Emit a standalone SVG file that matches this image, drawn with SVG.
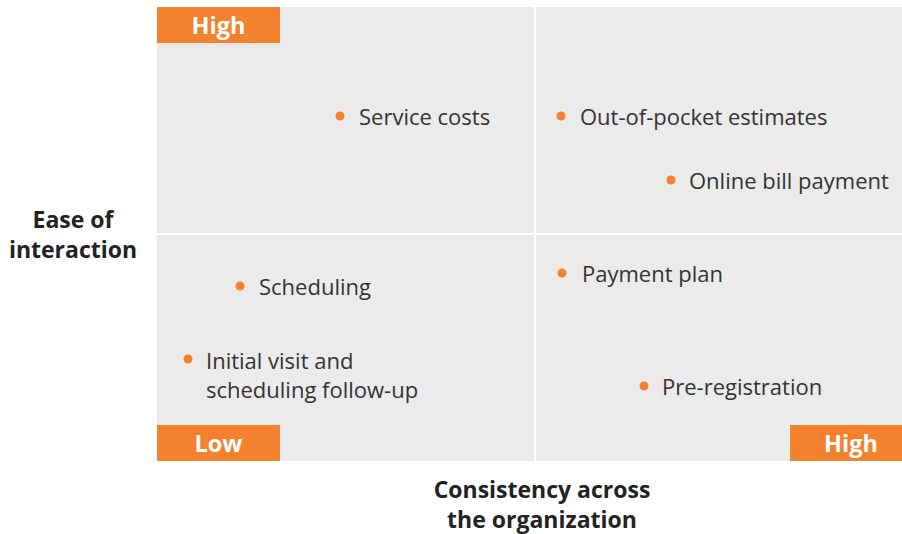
<svg xmlns="http://www.w3.org/2000/svg" width="902" height="534" viewBox="0 0 902 534">
  <style>
    .quad { fill: #ebebeb; }
    .tag { fill: #f3812e; }
    .tag-text { font-family: "Open Sans", "Liberation Sans", sans-serif; font-size: 23.5px; font-weight: bold; fill: #ffffff; text-anchor: middle; }
    .axis { font-family: "Open Sans", "Liberation Sans", sans-serif; font-size: 23px; font-weight: bold; fill: #222222; text-anchor: middle; }
    .item { font-family: "Open Sans", "Liberation Sans", sans-serif; font-size: 22px; fill: #333333; }
    .dot { fill: #f3812e; }
  </style>
  <rect width="902" height="534" fill="#ffffff"/>

  <!-- quadrant backgrounds -->
  <g id="grid">
    <rect class="quad" x="157" y="7" width="377" height="226"/>
    <rect class="quad" x="536" y="7" width="366" height="226"/>
    <rect class="quad" x="157" y="235" width="377" height="226"/>
    <rect class="quad" x="536" y="235" width="366" height="226"/>
  </g>

  <!-- scale tags -->
  <g id="tag-high-top">
    <rect class="tag" x="157" y="7" width="123" height="36"/>
    <text class="tag-text" x="218.5" y="33.5">High</text>
  </g>
  <g id="tag-low">
    <rect class="tag" x="157" y="425" width="123" height="36"/>
    <text class="tag-text" x="218.5" y="451.5">Low</text>
  </g>
  <g id="tag-high-right">
    <rect class="tag" x="790" y="425" width="112" height="36"/>
    <text class="tag-text" x="851" y="451.5">High</text>
  </g>

  <!-- axis titles -->
  <g id="axis-y">
    <text class="axis" x="73" y="228">Ease of</text>
    <text class="axis" x="73" y="258">interaction</text>
  </g>
  <g id="axis-x">
    <text class="axis" x="542" y="498">Consistency across</text>
    <text class="axis" x="542" y="528">the organization</text>
  </g>

  <!-- plotted items -->
  <g id="service-costs">
    <circle class="dot" cx="340" cy="116" r="4.5"/>
    <text class="item" x="359" y="124.5">Service costs</text>
  </g>
  <g id="out-of-pocket">
    <circle class="dot" cx="561" cy="116" r="4.5"/>
    <text class="item" x="580" y="124.5">Out-of-pocket estimates</text>
  </g>
  <g id="online-bill">
    <circle class="dot" cx="671" cy="180" r="4.5"/>
    <text class="item" x="689" y="188.5">Online bill payment</text>
  </g>
  <g id="scheduling">
    <circle class="dot" cx="240" cy="286" r="4.5"/>
    <text class="item" x="259" y="294.5">Scheduling</text>
  </g>
  <g id="initial-visit">
    <circle class="dot" cx="188" cy="359" r="4.5"/>
    <text class="item" x="206" y="368.5">Initial visit and</text>
    <text class="item" x="206" y="397.5">scheduling follow-up</text>
  </g>
  <g id="payment-plan">
    <circle class="dot" cx="562" cy="273" r="4.5"/>
    <text class="item" x="582" y="281.5">Payment plan</text>
  </g>
  <g id="pre-registration">
    <circle class="dot" cx="644" cy="386" r="4.5"/>
    <text class="item" x="662" y="394.5">Pre-registration</text>
  </g>
</svg>
